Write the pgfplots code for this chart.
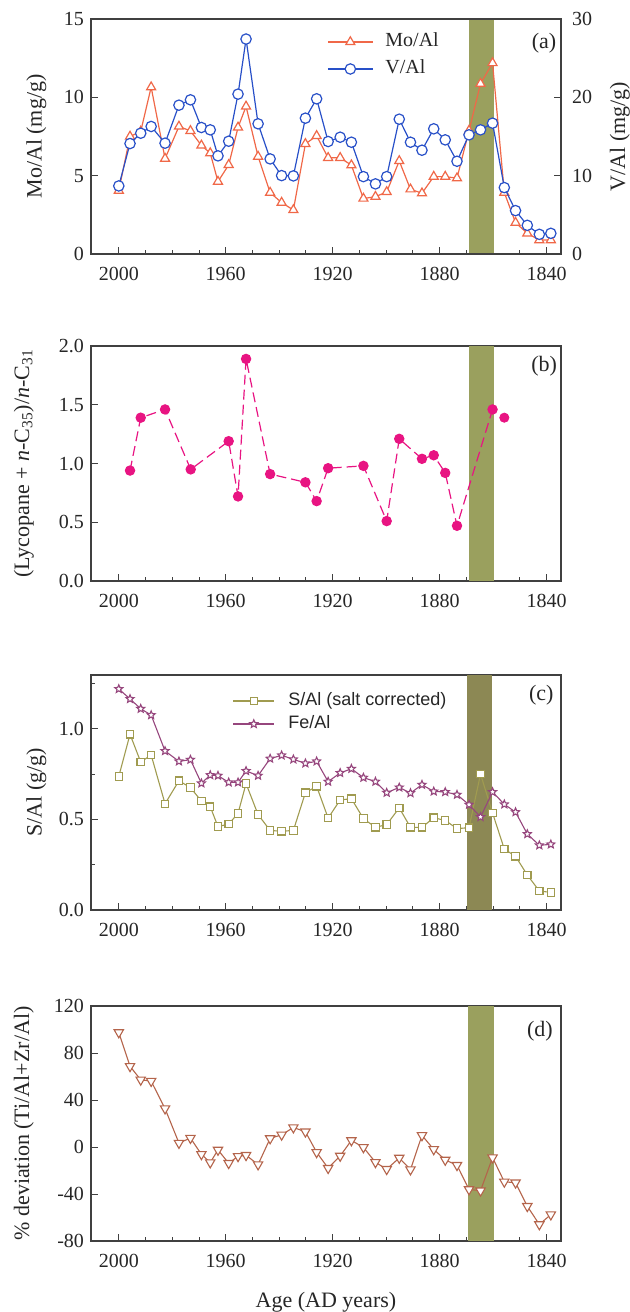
\documentclass[border=0pt]{standalone}
\usepackage{fontspec}
\setmainfont{Liberation Serif}
\newfontfamily\legsans{Liberation Sans}
\usepackage{pgfplots}
\usepackage{pgfplotstable}
\pgfplotsset{compat=1.18}
\usetikzlibrary{plotmarks}

\definecolor{moColor}{RGB}{240,104,72}
\definecolor{vColor}{RGB}{40,80,200}
\definecolor{lycColor}{RGB}{232,20,130}
\definecolor{sColor}{RGB}{160,155,80}
\definecolor{feColor}{RGB}{150,70,125}
\definecolor{devColor}{RGB}{180,100,75}
\definecolor{bandA}{RGB}{154,160,94}
\definecolor{bandC}{RGB}{140,136,84}

\pgfdeclareplotmark{ostar}{%
  \pgfpathmoveto{\pgfpointpolar{90}{\pgfplotmarksize}}%
  \pgfpathlineto{\pgfpointpolar{126}{0.45\pgfplotmarksize}}%
  \pgfpathlineto{\pgfpointpolar{162}{\pgfplotmarksize}}%
  \pgfpathlineto{\pgfpointpolar{198}{0.45\pgfplotmarksize}}%
  \pgfpathlineto{\pgfpointpolar{234}{\pgfplotmarksize}}%
  \pgfpathlineto{\pgfpointpolar{270}{0.45\pgfplotmarksize}}%
  \pgfpathlineto{\pgfpointpolar{306}{\pgfplotmarksize}}%
  \pgfpathlineto{\pgfpointpolar{342}{0.45\pgfplotmarksize}}%
  \pgfpathlineto{\pgfpointpolar{18}{\pgfplotmarksize}}%
  \pgfpathlineto{\pgfpointpolar{54}{0.45\pgfplotmarksize}}%
  \pgfpathclose
  \pgfusepathqfillstroke
}

\pgfplotstableread{
year mo v s fe dev
2000.0 4.05 8.69 0.737 1.219 97.5
1995.8 7.50 14.10 0.969 1.164 68.7
1991.8 7.82 15.42 0.816 1.110 57.2
1987.9 10.65 16.28 0.855 1.075 56.1
1982.7 6.09 14.15 0.586 0.877 32.7
1977.5 8.14 19.00 0.713 0.820 3.4
1973.2 7.86 19.68 0.675 0.829 7.6
1969.1 6.93 16.15 0.601 0.699 -6.2
1965.8 6.44 15.85 0.570 0.744 -13.2
1962.9 4.62 12.53 0.460 0.741 -2.5
1958.9 5.69 14.40 0.474 0.704 -13.8
1955.4 8.08 20.41 0.533 0.704 -7.9
1952.4 9.42 27.44 0.697 0.767 -7.0
1947.9 6.22 16.62 0.526 0.741 -14.9
1943.4 3.92 12.14 0.439 0.835 7.3
1939.1 3.28 10.01 0.434 0.853 10.4
1934.7 2.81 9.97 0.439 0.831 16.6
1930.2 7.03 17.34 0.647 0.809 13.0
1926.0 7.54 19.81 0.682 0.820 -4.5
1921.7 6.14 14.36 0.507 0.708 -18.0
1917.2 6.14 14.91 0.607 0.756 -7.6
1913.0 5.67 14.27 0.614 0.779 5.6
1908.5 3.54 9.88 0.504 0.730 -0.3
1904.0 3.66 8.95 0.456 0.708 -13.0
1899.8 3.96 9.88 0.471 0.647 -18.9
1895.1 5.94 17.21 0.563 0.676 -9.3
1890.9 4.13 14.27 0.456 0.645 -19.2
1886.6 3.88 13.25 0.456 0.691 9.9
1882.2 4.94 15.98 0.509 0.654 -2.0
1877.9 4.94 14.57 0.494 0.651 -11.0
1873.5 4.84 11.84 0.449 0.636 -15.5
1869.0 7.88 15.21 0.454 0.581 -36.1
1864.7 10.87 15.85 0.750 0.513 -37.2
1860.2 12.19 16.70 0.535 0.651 -9.0
1855.8 3.92 8.48 0.336 0.583 -29.6
1851.6 2.00 5.54 0.296 0.540 -30.4
1847.2 1.32 3.66 0.193 0.419 -50.4
1842.7 0.89 2.51 0.105 0.357 -65.9
1838.4 0.89 2.64 0.097 0.362 -57.5
}\maintable

\pgfplotstableread{
year lyc
1995.8 0.94
1991.8 1.39
1982.7 1.46
1973.1 0.95
1958.9 1.19
1955.4 0.72
1952.4 1.89
1943.4 0.91
1930.2 0.84
1926.0 0.68
1921.7 0.96
1908.5 0.98
1899.8 0.51
1895.1 1.21
1886.6 1.04
1882.2 1.07
1877.9 0.92
1873.5 0.47
1860.2 1.46
}\lyctable

\pgfplotstableread{
year lyc
1855.8 1.39
}\lyclast

\pgfplotsset{
  panel/.style={
    scale only axis, width=235pt, height=117.5pt,
    xmin=1834.6, xmax=2010.4, x dir=reverse,
    xtick={1840,1880,1920,1960,2000},
    minor xtick={1850,1860,1870,1890,1900,1910,1930,1940,1950,1970,1980,1990},
    xtick pos=bottom, ytick pos=left,
    tick align=inside,
    major tick length=3.3pt, minor tick length=2.2pt,
    every tick/.style={black!75, line width=0.5pt},
    axis line style={black!75, line width=0.6pt},
    /pgf/number format/assume math mode=true,
    /pgf/number format/set thousands separator={},
    tick label style={font=\fontsize{10}{12}\selectfont, text=black!85},
    xticklabel style={yshift=-3pt},
    label style={font=\fontsize{11}{13}\selectfont, text=black!85},
    ylabel style={at={(axis description cs:-0.116,0.5)}, anchor=center},
  },
  leglinea/.style={legend image code/.code={%
    \draw[mark repeat=2,mark phase=2,##1] plot coordinates {(0pt,0pt) (11.25pt,0pt) (22.5pt,0pt)};
    \path (27pt,0pt);}},
  leglinec/.style={legend image code/.code={%
    \draw[mark repeat=2,mark phase=2,##1] plot coordinates {(0pt,0pt) (10.25pt,0pt) (20.5pt,0pt)};
    \path (26pt,0pt);}},
}

\begin{document}
\begin{tikzpicture}
\path[use as bounding box] (0,0) rectangle (315pt,-656pt);

% ---------------- panel (a)
\begin{axis}[panel, at={(45.5pt,-9.5pt)}, anchor=north west,
  ymin=0, ymax=15, ytick={0,5,10,15},
  ylabel={Mo/Al (mg/g)}]
\addplot[draw=none, fill=bandA, forget plot] coordinates {(1869.0,0) (1859.7,0) (1859.7,15) (1869.0,15)};
\addplot[moColor, line width=0.6pt, mark=triangle*, mark size=2.6pt, mark options={fill=white, solid}] table[x=year, y=mo] {\maintable};
\node[font=\fontsize{11}{13}\selectfont, text=black!85] at (axis description cs:0.964,0.898) {(a)};
\end{axis}
\begin{axis}[panel, at={(45.5pt,-9.5pt)}, anchor=north west,
  ymin=0, ymax=30, ytick={0,10,20,30},
  xtick=\empty, minor xtick={},
  ytick pos=right, yticklabel pos=right,
  yticklabel style={xshift=2pt},
  ylabel={V/Al (mg/g)},
  ylabel style={at={(axis description cs:1.1255,0.5)}, anchor=center},
  leglinea,
  legend style={draw=none, fill=none, at={(axis description cs:0.489,0.972)}, anchor=north west,
    font=\fontsize{10}{12}\selectfont, text=black!85, row sep=1.5pt,
    nodes={inner sep=1.5pt, text height=7pt, text depth=2pt}},
  legend cell align=left]
\addlegendimage{moColor, line width=0.6pt, mark=triangle*, mark size=2.6pt, mark options={fill=white, solid}}
\addlegendentry{Mo/Al}
\addplot[vColor, line width=0.6pt, mark=*, mark size=2.6pt, mark options={fill=white, solid}] table[x=year, y=v] {\maintable};
\addlegendentry{V/Al}
\end{axis}

% ---------------- panel (b)
\begin{axis}[panel, at={(45.5pt,-173pt)}, anchor=north west,
  ymin=0, ymax=2, ytick={0,0.5,1,1.5,2},
  yticklabel style={/pgf/number format/.cd, fixed, fixed zerofill, precision=1},
  ylabel={(Lycopane + \textit{n}-C\textsubscript{35})/\textit{n}-C\textsubscript{31}},
  ylabel style={at={(axis description cs:-0.143,0.5)}, anchor=center}]
\addplot[draw=none, fill=bandA, forget plot] coordinates {(1869.0,0) (1859.7,0) (1859.7,2) (1869.0,2)};
\addplot[lycColor, line width=0.6pt, dash pattern=on 5pt off 2.5pt, mark=*, mark size=2.3pt, mark options={solid, fill=lycColor}] table[x=year, y=lyc] {\lyctable};
\addplot[lycColor, only marks, mark=*, mark size=2.3pt, mark options={solid, fill=lycColor}] table[x=year, y=lyc] {\lyclast};
\node[font=\fontsize{11}{13}\selectfont, text=black!85] at (axis description cs:0.964,0.916) {(b)};
\end{axis}

% ---------------- panel (c)
\begin{axis}[panel, at={(45.5pt,-337.5pt)}, anchor=north west,
  ymin=0, ymax=1.296, ytick={0,0.5,1}, minor ytick={0.25,0.75,1.25},
  yticklabel style={/pgf/number format/.cd, fixed, fixed zerofill, precision=1},
  ylabel={S/Al (g/g)},
  leglinec,
  legend style={draw=none, fill=none, at={(axis description cs:0.288,0.955)}, anchor=north west,
    font=\legsans\fontsize{9}{11}\selectfont, text=black!85, row sep=0.5pt,
    nodes={inner sep=1.25pt, text height=6.5pt, text depth=2pt}},
  legend cell align=left]
\addplot[draw=none, fill=bandC, forget plot] coordinates {(1869.8,0) (1860.4,0) (1860.4,1.296) (1869.8,1.296)};
\addplot[sColor, line width=0.55pt, mark=square*, mark size=1.85pt, mark options={fill=white, solid}] table[x=year, y=s] {\maintable};
\addlegendentry{S/Al (salt corrected)}
\addplot[feColor, line width=0.55pt, mark=ostar, mark size=2.1pt, mark options={fill=white, solid}] table[x=year, y=fe] {\maintable};
\addlegendentry{Fe/Al}
\node[font=\fontsize{11}{13}\selectfont, text=black!85] at (axis description cs:0.958,0.915) {(c)};
\end{axis}

% ---------------- panel (d)
\begin{axis}[panel, at={(45.5pt,-503pt)}, anchor=north west,
  ymin=-80, ymax=120, ytick={-80,-40,0,40,80,120},
  ylabel={\% deviation (Ti/Al+Zr/Al)},
  ylabel style={at={(axis description cs:-0.143,0.5)}, anchor=center},
  xlabel={Age (AD years)},
  xlabel style={at={(axis description cs:0.5,-0.285)}, anchor=base}]
\addplot[draw=none, fill=bandA, forget plot] coordinates {(1869.3,-80) (1859.8,-80) (1859.8,120) (1869.3,120)};
\addplot[devColor, line width=0.55pt, mark=triangle*, mark size=2.7pt, mark options={fill=white, solid, rotate=180}] table[x=year, y=dev] {\maintable};
\node[font=\fontsize{11}{13}\selectfont, text=black!85] at (axis description cs:0.955,0.891) {(d)};
\end{axis}
\end{tikzpicture}
\end{document}
